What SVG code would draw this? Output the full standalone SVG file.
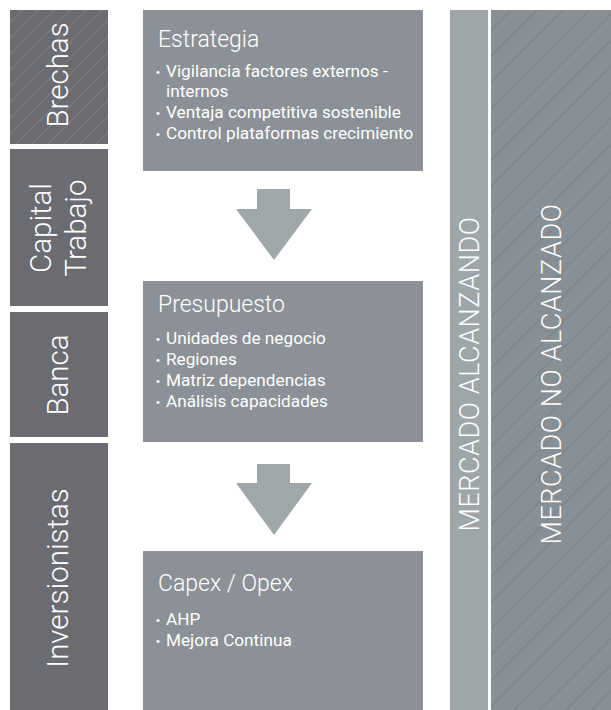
<svg xmlns="http://www.w3.org/2000/svg" width="611" height="710" viewBox="0 0 611 710">
  <style>
    .side { fill: #6b6c71; }
    .step { fill: #8b9196; }
    .arrow { fill: #a0a7aa; }
    .side-label { font-family: Roboto, "Liberation Sans", sans-serif; font-weight: 300; font-size: 29.5px; fill: #ffffff; text-anchor: middle; }
    .market-label { font-family: Roboto, "Liberation Sans", sans-serif; font-weight: 300; font-size: 27px; letter-spacing: 0.55px; fill: #ffffff; text-anchor: middle; }
    .title { font-family: Roboto, "Liberation Sans", sans-serif; font-weight: 300; font-size: 23px; fill: #ffffff; }
    .item { font-family: Roboto, "Liberation Sans", sans-serif; font-size: 17.2px; fill: #ffffff; }
    .dot { font-family: "Liberation Sans", sans-serif; font-size: 11px; fill: #ffffff; }
  </style>
  <defs>
    <pattern id="hatch-light" width="11.3" height="11.3" patternUnits="userSpaceOnUse" patternTransform="rotate(45)">
      <line x1="0" y1="0" x2="0" y2="11.3" stroke="#8a8b90" stroke-width="1.2"/>
    </pattern>
    <pattern id="hatch-dark" width="18.4" height="18.4" patternUnits="userSpaceOnUse" patternTransform="rotate(45)">
      <line x1="0" y1="0" x2="0" y2="18.4" stroke="#7b8185" stroke-width="2.2"/>
    </pattern>
  </defs>

  <!-- Left column: funding sources -->
  <g id="brechas">
    <rect class="side" x="10" y="10" width="98" height="134"/>
    <rect x="10" y="10" width="98" height="134" fill="url(#hatch-light)"/>
    <text class="side-label" transform="translate(68,75) rotate(-90)">Brechas</text>
  </g>
  <g id="capital-trabajo">
    <rect class="side" x="10" y="149" width="98" height="157"/>
    <text class="side-label" transform="translate(51,228) rotate(-90)">Capital</text>
    <text class="side-label" transform="translate(86,228) rotate(-90)">Trabajo</text>
  </g>
  <g id="banca">
    <rect class="side" x="10" y="312" width="98" height="125"/>
    <text class="side-label" transform="translate(68,375) rotate(-90)">Banca</text>
  </g>
  <g id="inversionistas">
    <rect class="side" x="10" y="443" width="98" height="267"/>
    <text class="side-label" transform="translate(68,578) rotate(-90)">Inversionistas</text>
  </g>

  <!-- Middle column: process steps -->
  <g id="estrategia">
    <rect class="step" x="143" y="10" width="280" height="161"/>
    <text class="title" x="158" y="47">Estrategia</text>
    <text class="dot" x="156" y="76">•</text>
    <text class="item" x="166" y="77">Vigilancia factores externos -</text>
    <text class="item" x="166" y="97">internos</text>
    <text class="dot" x="156" y="117">•</text>
    <text class="item" x="166" y="118">Ventaja competitiva sostenible</text>
    <text class="dot" x="156" y="138">•</text>
    <text class="item" x="166" y="139">Control plataformas crecimiento</text>
  </g>
  <g id="presupuesto">
    <rect class="step" x="143" y="281" width="280" height="161"/>
    <text class="title" x="158" y="312">Presupuesto</text>
    <text class="dot" x="156" y="343">•</text>
    <text class="item" x="166" y="344">Unidades de negocio</text>
    <text class="dot" x="156" y="364">•</text>
    <text class="item" x="166" y="365">Regiones</text>
    <text class="dot" x="156" y="385">•</text>
    <text class="item" x="166" y="386">Matriz dependencias</text>
    <text class="dot" x="156" y="406">•</text>
    <text class="item" x="166" y="407">Análisis capacidades</text>
  </g>
  <g id="capex-opex">
    <rect class="step" x="143" y="551" width="280" height="159"/>
    <text class="title" x="158" y="591">Capex / Opex</text>
    <text class="dot" x="156" y="624">•</text>
    <text class="item" x="166" y="625">AHP</text>
    <text class="dot" x="156" y="645">•</text>
    <text class="item" x="166" y="646">Mejora Continua</text>
  </g>

  <!-- Right columns: market reach -->
  <g id="mercado-alcanzando">
    <rect x="450" y="10" width="38" height="700" fill="#9ea6a9"/>
    <text class="market-label" transform="translate(479,374) rotate(-90)">MERCADO ALCANZANDO</text>
  </g>
  <g id="mercado-no-alcanzado">
    <rect x="491" y="10" width="120" height="700" fill="#899095"/>
    <rect x="491" y="10" width="120" height="700" fill="url(#hatch-dark)"/>
    <text class="market-label" transform="translate(561,374) rotate(-90)">MERCADO NO ALCANZADO</text>
  </g>

  <!-- Connectors between steps -->
  <g id="connectors">
    <polygon class="arrow" points="257,189 290,189 290,209 312,209 274,260 236,209 257,209"/>
    <polygon class="arrow" points="257,464 290,464 290,483 312,483 274,535 236,483 257,483"/>
  </g>
</svg>
